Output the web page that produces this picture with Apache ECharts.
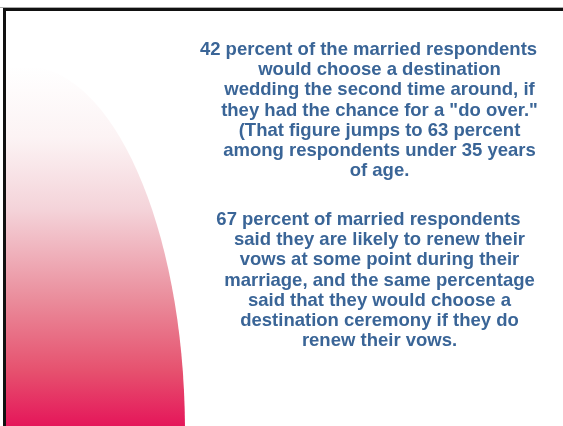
<!DOCTYPE html>
<html>
<head>
<meta charset="utf-8">
<script src="https://cdn.jsdelivr.net/npm/echarts@6/dist/echarts.min.js"></script>
<style>
html,body{margin:0;padding:0;background:#fff;}
#chart{width:563px;height:426px;}
</style>
</head>
<body>
<div id="chart"></div>
<script>
var paragraph1Lines = [
  '42 percent of the married respondents',
  'would choose a destination',
  'wedding the second time around, if',
  'they had the chance for a "do over."',
  '(That figure jumps to 63 percent',
  'among respondents under 35 years',
  'of age.'
];
var paragraph2Lines = [
  '67 percent of married respondents',
  'said they are likely to renew their',
  'vows at some point during their',
  'marriage, and the same percentage',
  'said that they would choose a',
  'destination ceremony if they do',
  'renew their vows.'
];

var chart = echarts.init(document.getElementById('chart'), null, {renderer: 'canvas'});
var textColor = '#3A6597';
var centerX = 379.5;
var lineH = 20.2;

function paraTexts(lines, topY) {
  return lines.map(function (t, i) {
    return {
      type: 'text',
      x: centerX + (i === 0 ? -11 : 0),
      y: topY + i * lineH,
      z: 10,
      style: {
        text: t,
        fill: textColor,
        font: 'bold 18.5px "Liberation Sans", Arial, sans-serif',
        textAlign: 'center',
        textVerticalAlign: 'middle'
      }
    };
  });
}

var elements = [
  {
    type: 'ellipse',
    z: 1,
    shape: {cx: 25, cy: 432, rx: 160, ry: 366},
    style: {
      fill: new echarts.graphic.LinearGradient(0, 66, 0, 426, [
        {offset: 0, color: '#FFFFFF'},
        {offset: 0.2, color: '#FCF3F4'},
        {offset: 0.4, color: '#F4D3D9'},
        {offset: 0.65, color: '#EA8C9B'},
        {offset: 0.85, color: '#E6506E'},
        {offset: 1, color: '#E5165A'}
      ], true)
    }
  },
  {type: 'rect', z: 2, shape: {x: 0, y: 0, width: 3, height: 426}, style: {fill: '#FFFFFF'}},
  {type: 'rect', z: 3, shape: {x: 0, y: 7, width: 563, height: 1}, style: {fill: '#AAAAAA'}},
  {type: 'rect', z: 3, shape: {x: 3, y: 8, width: 560, height: 3}, style: {fill: '#111111'}},
  {type: 'rect', z: 3, shape: {x: 3, y: 8, width: 3, height: 418}, style: {fill: '#111111'}}
];
elements = elements.concat(paraTexts(paragraph1Lines, 50), paraTexts(paragraph2Lines, 220));

chart.setOption({
  backgroundColor: '#FFFFFF',
  animation: false,
  graphic: {elements: elements}
});
</script>
</body>
</html>
